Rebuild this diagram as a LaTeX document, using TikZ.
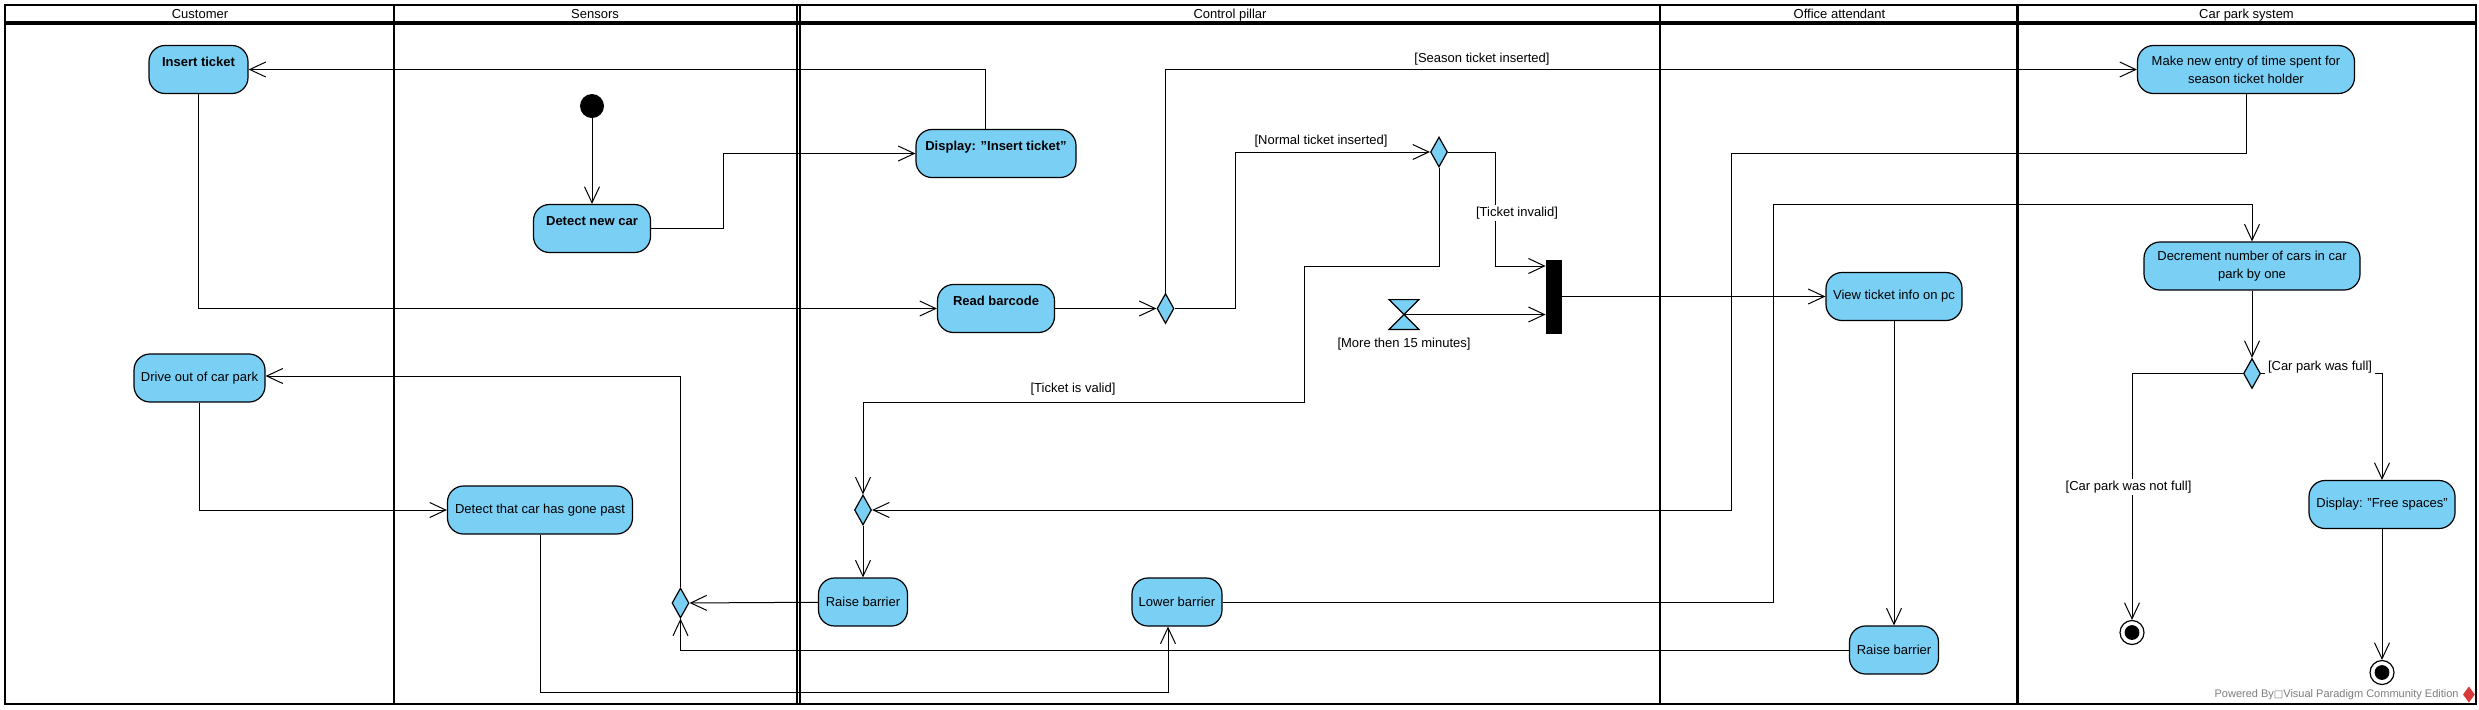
\documentclass[tikz,border=0pt]{standalone}
\usepackage{fontspec}
\setmainfont{Liberation Sans}
\newfontfamily\symfont{DejaVu Sans}
\usetikzlibrary{positioning,arrows.meta,shapes.geometric}
\definecolor{actblue}{RGB}{122,207,245}
\definecolor{markgrey}{RGB}{125,125,125}
\definecolor{markred}{RGB}{214,58,58}
\tikzset{
  >={Straight Barb[length=8pt,width=7.5pt]},
  flow/.style={->,line width=0.5pt},
  lane/.style={line width=1.25pt},
  lanehead/.style={font=\fontsize{6.5}{8}\selectfont,text height=5pt,text depth=1.4pt},
  act/.style={draw,fill=actblue,line width=0.6pt,rounded corners=8pt,minimum height=24pt,
    inner sep=1pt,align=center,font=\fontsize{6.5}{9}\selectfont},
  boldact/.style={act,font=\fontsize{6.5}{9}\selectfont\bfseries,text height=5pt,text depth=8.5pt},
  decision/.style={diamond,draw,fill=actblue,line width=0.6pt,inner sep=0pt,minimum width=8.5pt,minimum height=15pt},
  guard/.style={fill=white,inner xsep=1.5pt,inner ysep=1pt,font=\fontsize{6.5}{8}\selectfont,text height=5pt,text depth=1.4pt},
  start/.style={circle,fill=black,inner sep=0pt,minimum size=12pt},
  final/.style={circle,draw,fill=white,line width=0.6pt,inner sep=0pt,minimum size=12pt,
    path picture={\fill[black] (path picture bounding box.center) circle (3.7pt);}},
}
\begin{document}
\begin{tikzpicture}[x=0.5pt,y=-0.5pt]
\useasboundingbox (0,0) rectangle (2479,709);

\draw[lane] (5,5) rectangle (2476,704);
\draw[line width=1.7pt] (5,23) -- (2476,23);
\draw[lane] (394,5) -- (394,704);
\draw[line width=1.1pt] (796.8,5) -- (796.8,704);
\draw[line width=1.1pt] (799.6,5) -- (799.6,704);
\draw[lane] (1660,5) -- (1660,704);
\draw[lane] (2017.5,5) -- (2017.5,704);

\node[lanehead] (hcust) at (200,14.5) {Customer};
\node[lanehead] (hsens) at (595,14.5) {Sensors};
\node[lanehead] (hctrl) at (1230,14.5) {Control pillar};
\node[lanehead] (hoff) at (1839.5,14.5) {Office attendant};
\node[lanehead] (hsys) at (2246.5,14.5) {Car park system};

\node[boldact,minimum width=49.5pt] (ins) at (198.5,69.5) {Insert ticket};
\node[act,minimum width=65.5pt] (drive) at (199.5,378) {Drive out of car park};

\node[start] (ini) at (592,106) {};
\node[boldact,minimum width=58.5pt] (dnc) at (592,228.5) {Detect new car};
\node[act,minimum width=92.5pt] (det) at (540,510) {Detect that car has gone past};
\node[decision] (d4) at (680.5,603) {};

\node[boldact,minimum width=80pt] (dsp) at (996,153.5) {Display: "Insert ticket"};
\node[boldact,minimum width=58.5pt] (rd) at (996,308.5) {Read barcode};
\node[decision] (d1) at (1165.5,308.5) {};
\node[decision] (d2) at (1439,152) {};
\node[draw,fill=black,inner sep=0pt,minimum width=7.5pt,minimum height=36.5pt] (bar) at (1553.5,296.5) {};
\node[inner sep=0pt,minimum width=14.5pt,minimum height=14.5pt] (tm) at (1404,314.5) {};
\node[decision] (m1) at (863,510) {};
\node[act,minimum width=44.5pt] (r1) at (863,602) {Raise barrier};
\node[act,minimum width=45pt] (low) at (1177,602) {Lower barrier};

\node[act,minimum width=68pt] (view) at (1894,296.5) {View ticket info on pc};
\node[act,minimum width=44.5pt] (r2) at (1894,650) {Raise barrier};

\node[act,minimum width=108.5pt] (mne) at (2246,69.5) {Make new entry of time spent for\\season ticket holder};
\node[act,minimum width=108pt] (dec) at (2252,266) {Decrement number of cars in car\\park by one};
\node[decision] (d5) at (2252,373.5) {};
\node[act,minimum width=73pt] (dfs) at (2382,504.5) {Display: "Free spaces"};
\node[final] (fin1) at (2132,632.5) {};
\node[final] (fin2) at (2382,672.5) {};

\draw[line width=0.6pt,fill=actblue] (tm.north west) -- (tm.north east) -- (tm.south west) -- (tm.south east) -- cycle;

\coordinate (n1) at (1235,152);
\coordinate (n2) at (1495.5,266);
\coordinate (n3) at (1304,266);
\coordinate (n4) at (1304,402);
\coordinate (n5) at (1168,692);
\coordinate (n6) at (1773,204);
\coordinate (n7) at (1731.5,153);
\coordinate (n8) at (723.5,153.5);

\path[flow]
(ini) edge (dnc)
(rd) edge (d1)
(view) edge (r2)
(r1) edge (d4)
(m1) edge (r1)
(bar) edge (view)
(dec) edge (d5)
(dfs) edge (fin2);

\draw[flow] ([xshift=-5.2pt]dsp.north) |- (ins.east);
\draw[flow] (ins.south) |- (rd.west);
\draw[flow] (dnc.east) -| (n8) -- (dsp.west);
\draw[flow] (d1.north) |- (mne.west);
\draw[flow] (d1.east) -| (n1) -- (d2.west);
\draw[flow] (d2.east) -| (n2) -- (n2 -| bar.west);
\draw[flow] (d2.south) |- (n3) -- (n4) -| (m1.north);
\draw[flow] (tm.center) -- (tm.center -| bar.west);
\draw[flow] (mne.south) |- (n7) |- (m1.east);
\draw[flow] (r2.west) -| (d4.south);
\draw[flow] (d4.north) |- ([yshift=1pt]drive.east);
\draw[flow] (drive.south) |- (det.west);
\draw[flow] (det.south) |- (n5) -- ([xshift=-4.5pt]low.south);
\draw[flow] (low.east) -| (n6) -| (dec.north);
\draw[flow] (d5.west) -| (fin1.north);
\draw[flow] (d5.east) -| (dfs.north);

\node[guard] (gseason) at (1482,59) {[Season ticket inserted]};
\node[guard] (gnormal) at (1321,141) {[Normal ticket inserted]};
\node[guard] (ginvalid) at (1517,213) {[Ticket invalid]};
\node[guard,below=3pt of tm] (gmore) {[More then 15 minutes]};
\node[guard] (gvalid) at (1073,389) {[Ticket is valid]};
\node[guard] (gfull) at (2320,366.5) {[Car park was full]};
\node[guard] (gnot) at (2128.5,487) {[Car park was not full]};

\node[text=markgrey,font=\fontsize{5.5}{7}\selectfont,inner sep=0pt,anchor=east] (wmark) at (2459,694.5) {Powered By{\symfont\fontsize{5}{7}\selectfont □}Visual Paradigm Community Edition};
\node[diamond,draw=markred,fill=markred,line width=0.4pt,inner sep=0pt,minimum width=5.5pt,minimum height=7.5pt,right=2pt of wmark] (wlogo) {};
\end{tikzpicture}
\end{document}
